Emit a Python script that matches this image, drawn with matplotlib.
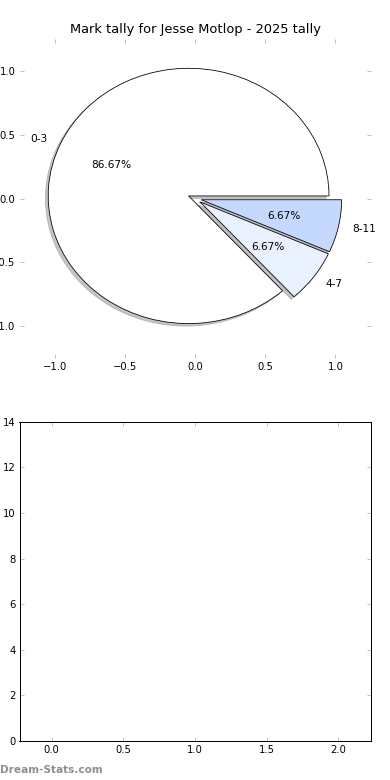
import numpy as np
import matplotlib
matplotlib.use("Agg")
import matplotlib.pyplot as plt

labels = ["0-3", "4-7", "8-11"]
counts = [13, 1, 1]
colors = ["#ffffff", "#eaf1fe", "#c5d9fe"]
explode = [0.05, 0.045, 0.045]
title = "Mark tally for Jesse Motlop - 2025 tally"

pie_xticks = [-1.0, -0.5, 0.0, 0.5, 1.0]
pie_yticks = [-1.0, -0.5, 0.0, 0.5, 1.0]
bar_xticks = [0.0, 0.5, 1.0, 1.5, 2.0]
bar_yticks = [0, 2, 4, 6, 8, 10, 12, 14]

DPI = 72
plt.rcParams["font.family"] = "DejaVu Sans"
plt.rcParams["font.size"] = 10
fig, (ax1, ax2) = plt.subplots(2, 1, figsize=(390 / DPI, 780 / DPI), dpi=DPI)
plt.subplots_adjust(left=0.05, right=0.95, bottom=0.05, top=0.95, hspace=0.2)

wedges, texts, autotexts = ax1.pie(counts, labels=labels, colors=colors, explode=explode,
                                   autopct="%1.2f%%",
                                   shadow={"ox": -0.02, "oy": -0.02, "shade": 0.45},
                                   startangle=0,
                                   textprops={"fontsize": 10.5},
                                   wedgeprops={"linewidth": 0.8, "edgecolor": "black"})
ax1.set_aspect("auto")
ax1.set_frame_on(False)
ax1.set_xlim(-1.25, 1.25)
ax1.set_ylim(-1.25, 1.25)
ax1.set_xticks(pie_xticks)
ax1.set_yticks(pie_yticks)
ax1.set_title(title, fontsize=13)

ax2.set_xlim(-0.225, 2.225)
ax2.set_ylim(0, 14)
ax2.set_xticks(bar_xticks)
ax2.set_yticks(bar_yticks)
for s in ax2.spines.values():
    s.set_linewidth(1)

for ax in (ax1, ax2):
    ax.tick_params(direction="in", length=4, width=1, color="#c0c0c0",
                   top=True, right=True, labelsize=10, pad=4)

fig.text(0.0, 0.0128, "Dream-Stats.com", color="#8f8f8f", fontsize=10.5,
         fontweight="bold", ha="left", va="center")

plt.savefig("out.png", dpi=DPI)
